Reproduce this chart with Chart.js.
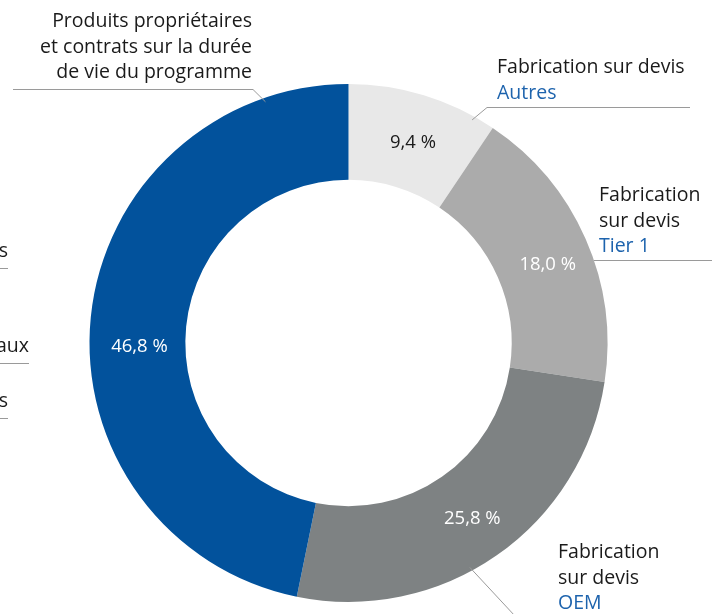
<!DOCTYPE html>
<html lang="fr">
<head>
<meta charset="utf-8">
<title>Répartition</title>
<script src="https://cdn.jsdelivr.net/npm/chart.js@4/dist/chart.umd.min.js"></script>
<style>
  html, body { margin: 0; padding: 0; background: #ffffff; }
  #wrap { width: 722px; height: 614px; position: relative; }
</style>
</head>
<body>
<div id="wrap"><canvas id="c" width="722" height="614"></canvas></div>
<script>
// ---- Data ----
const categories = [
  'Fabrication sur devis – Autres',
  'Fabrication sur devis – Tier 1',
  'Fabrication sur devis – OEM',
  'Produits propriétaires et contrats sur la durée de vie du programme'
];
const shares = [9.4, 18.0, 25.8, 46.8];
const valueLabels = ['9,4 %', '18,0 %', '25,8 %', '46,8 %'];
const labelLinesBlack = [
  ['Fabrication sur devis'],
  ['Fabrication', 'sur devis'],
  ['Fabrication', 'sur devis'],
  ['Produits propriétaires', 'et contrats sur la durée', 'de vie du programme']
];
const labelLinesBlue = ['Autres', 'Tier 1', 'OEM', null];
const cutLabels = ['s', 'aux', 's'];

// ---- Styles ----
const sliceColors = ['#e8e8e8', '#ababab', '#7e8283', '#02529c'];
const valueColors = ['#1a1a1a', '#ffffff', '#ffffff', '#ffffff'];
const FONT = '"Open Sans", "Noto Sans", sans-serif';
const LABEL_SIZE = 19.5;
const LINE_H = 25.5;
const LEADER = '#9a9a9a';

// Layout of outside annotations (text blocks & leader lines)
const annot = [
  { x: 497, y: 73, align: 'left', anchorDeg: 29, line: [[690, 107], [487, 107]] },
  { x: 599, y: 201, align: 'left', anchorDeg: 71.4, line: [[712, 260]], horiz: true },
  { x: 558, y: 558, align: 'left', anchorDeg: 151.6, line: [[515, 616]] },
  { x: 252, y: 27, align: 'right', anchorDeg: -19, line: [[13, 89], [253, 89]] }
];
const valueOffsets = [[3, 2], [6, 7], [3, 3], [1, 25]];
const cutLayout = [
  { x: 8, y: 257, lineY: 268 },
  { x: 29, y: 352, lineY: 363 },
  { x: 8, y: 407, lineY: 418 }
];

const annotPlugin = {
  id: 'annot',
  afterDatasetsDraw(chart) {
    const ctx = chart.ctx;
    const meta = chart.getDatasetMeta(0);
    const arc0 = meta.data[0];
    const cx = arc0.x, cy = arc0.y, R = arc0.outerRadius;
    ctx.save();
    // value labels inside slices
    ctx.font = `${LABEL_SIZE - 1}px ${FONT}`;
    ctx.textAlign = 'center';
    ctx.textBaseline = 'middle';
    meta.data.forEach((arc, i) => {
      const p = arc.tooltipPosition();
      ctx.fillStyle = valueColors[i];
      ctx.fillText(valueLabels[i], p.x + valueOffsets[i][0], p.y + valueOffsets[i][1]);
    });
    // leader lines
    ctx.strokeStyle = LEADER;
    ctx.lineWidth = 1;
    annot.forEach((a) => {
      const ang = a.anchorDeg * Math.PI / 180;
      const r = a.horiz ? R : R * 0.985;
      let ax = cx + r * Math.sin(ang);
      let ay = cy - r * Math.cos(ang);
      ctx.beginPath();
      if (a.horiz) {
        ctx.moveTo(ax, a.line[0][1] + 0.5);
        ctx.lineTo(a.line[0][0], a.line[0][1] + 0.5);
      } else {
        ctx.moveTo(ax, ay);
        if (a.line.length === 2) {
          ctx.lineTo(a.line[1][0], a.line[1][1] + 0.5);
          ctx.lineTo(a.line[0][0], a.line[0][1] + 0.5);
        } else {
          ctx.lineTo(a.line[0][0], a.line[0][1]);
        }
      }
      ctx.stroke();
    });
    // outside text
    ctx.font = `${LABEL_SIZE}px ${FONT}`;
    ctx.textBaseline = 'alphabetic';
    annot.forEach((a, i) => {
      ctx.textAlign = a.align;
      let y = a.y;
      labelLinesBlack[i].forEach((t) => {
        ctx.fillStyle = '#1a1a1a';
        ctx.fillText(t, a.x, y);
        y += LINE_H;
      });
      if (labelLinesBlue[i]) {
        ctx.fillStyle = '#1d63ad';
        ctx.fillText(labelLinesBlue[i], a.x, y);
      }
    });
    // labels cut off at the left edge
    ctx.textAlign = 'right';
    cutLabels.forEach((t, i) => {
      const c = cutLayout[i];
      ctx.fillStyle = '#1a1a1a';
      ctx.fillText(t, c.x, c.y);
      ctx.beginPath();
      ctx.moveTo(0, c.lineY + 0.5);
      ctx.lineTo(c.x, c.lineY + 0.5);
      ctx.stroke();
    });
    ctx.restore();
  }
};

new Chart(document.getElementById('c'), {
  type: 'doughnut',
  data: {
    labels: categories,
    datasets: [{
      data: shares,
      backgroundColor: sliceColors,
      borderWidth: 0,
      hoverOffset: 0
    }]
  },
  options: {
    responsive: false,
    animation: false,
    cutout: '63%',
    rotation: 0,
    layout: { padding: { top: 84, bottom: 12, left: 89.5, right: 114.5 } },
    plugins: { legend: { display: false }, tooltip: { enabled: false } }
  },
  plugins: [annotPlugin]
});
</script>
</body>
</html>
